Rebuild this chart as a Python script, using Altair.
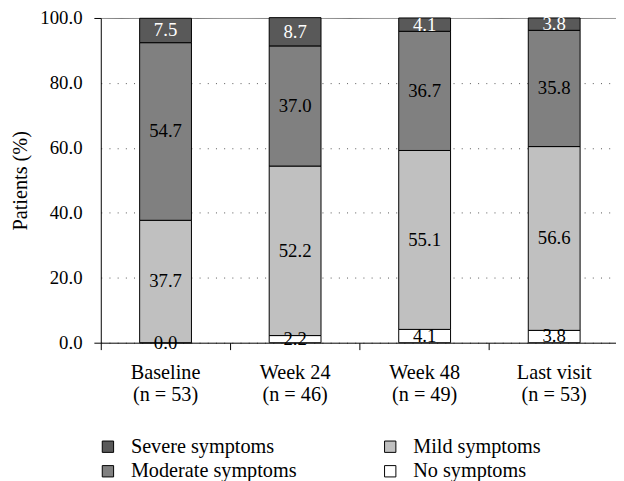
import altair as alt
import pandas as pd

categories = ["Baseline", "Week 24", "Week 48", "Last visit"]
n_patients = [53, 46, 49, 53]
symptoms = ["No symptoms", "Mild symptoms", "Moderate symptoms", "Severe symptoms"]
no_sym = [0.0, 2.2, 4.1, 3.8]
mild = [37.7, 52.2, 55.1, 56.6]
moderate = [54.7, 37.0, 36.7, 35.8]
severe = [7.5, 8.7, 4.1, 3.8]
y_ticks = [0, 20, 40, 60, 80, 100]

legend_order = ["Severe symptoms", "Moderate symptoms", "Mild symptoms", "No symptoms"]
colors = {
    "Severe symptoms": "#595959",
    "Mild symptoms": "#c0c0c0",
    "Moderate symptoms": "#808080",
    "No symptoms": "#ffffff",
}

labels = [f"{c}|(n = {n})" for c, n in zip(categories, n_patients)]
rows = []
for i, lab in enumerate(labels):
    for k, vals in enumerate([no_sym, mild, moderate, severe]):
        rows.append({"label": lab, "symptom": symptoms[k], "order": k, "value": vals[i]})
df = pd.DataFrame(rows)

FONT = "Liberation Serif"
FS = 19
TFS = 20.5

base = alt.Chart(df).transform_stack(
    stack="value", groupby=["label"], as_=["y0", "y1"],
    sort=[alt.SortField("order", "ascending")]
).transform_calculate(mid="(datum.y0 + datum.y1) / 2")

x = alt.X(
    "label:N", sort=labels, title=None,
    scale=alt.Scale(range=[0, 525], paddingInner=0, paddingOuter=0),
    axis=alt.Axis(
        bandPosition=0, labelExpr="split(datum.label, '|')",
        labelAngle=0, tickSize=7, tickColor="black", domainColor="black",
        labelFont=FONT, labelFontSize=TFS, labelColor="black", labelPadding=13,
        labelLineHeight=23, labelLimit=300, grid=False,
    ),
)

yaxis = alt.Axis(
    values=y_ticks, format=".1f", title="Patients (%)", tickSize=7,
    tickColor={"condition": {"test": "datum.value == 0 || datum.value == 100", "value": "black"},
               "value": "transparent"},
    grid=True,
    gridColor={"condition": {"test": "datum.value == 100", "value": "#777777"}, "value": "#555555"},
    gridDash={"condition": {"test": "datum.value == 100", "value": [1, 0]}, "value": [1, 7.3]},
    domainColor="black", labelFont=FONT, labelFontSize=FS, labelColor="black",
    labelPadding=12, titleFont=FONT, titleFontSize=TFS, titleFontWeight="normal",
    titleColor="black", titlePadding=10,
)

y = alt.Y("y0:Q", scale=alt.Scale(domain=[0, 100], nice=False), axis=yaxis)

bars = base.mark_bar(width=alt.RelativeBandSize(0.4), stroke="black", strokeWidth=1).encode(
    x=x,
    y=y,
    y2="y1:Q",
    color=alt.Color(
        "symptom:N",
        scale=alt.Scale(domain=legend_order, range=[colors[s] for s in legend_order]),
        legend=alt.Legend(
            title=None, orient="none", legendX=-3, legendY=424, columns=2,
            symbolType="square", symbolSize=132, symbolStrokeColor="black",
            symbolStrokeWidth=1, symbolOpacity=1, labelFont=FONT, labelFontSize=TFS,
            labelColor="black", labelOffset=13, columnPadding=84, rowPadding=4,
            labelLimit=400, padding=0,
        ),
    ),
)

text = base.mark_text(font=FONT, fontSize=FS, baseline="middle").encode(
    x=x,
    y=alt.Y("mid:Q", scale=alt.Scale(domain=[0, 100], nice=False), axis=yaxis),
    text=alt.Text("value:Q", format=".1f"),
    color=alt.condition(alt.datum.symptom == "Severe symptoms", alt.value("white"), alt.value("black")),
)

chart = alt.layer(bars, text).properties(
    width=522, height=329, autosize=alt.AutoSizeParams(type="none"),
    padding={"left": 94, "top": 7, "right": 0, "bottom": 137},
).configure_view(stroke=None)

chart.save("out.html", embed_options={"renderer": "svg", "actions": False})
